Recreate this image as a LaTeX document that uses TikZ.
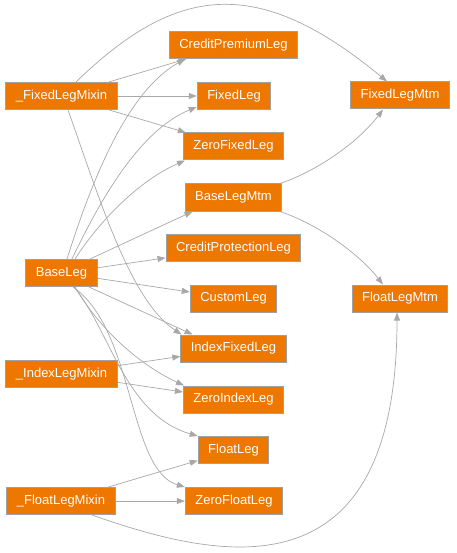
\documentclass[tikz,border=0pt]{standalone}
\usepackage{fontspec}
\setmainfont{Liberation Sans}
\usetikzlibrary{arrows.meta}
\definecolor{boxfill}{RGB}{238,119,0}
\definecolor{boxline}{RGB}{160,160,160}
\definecolor{edgecol}{RGB}{168,168,168}
\tikzset{
  cls/.style={rectangle, fill=boxfill, draw=boxline, line width=1pt, text=white,
    font=\fontsize{13}{15}\selectfont, minimum height=27pt, inner xsep=10pt, inner ysep=0pt},
  edge/.style={draw=edgecol, line width=0.7pt, -{Triangle[length=8pt,width=6pt]}}
}
\begin{document}
\begin{tikzpicture}[x=1pt,y=-1pt]
\useasboundingbox (0,0) rectangle (456,553);
\node[cls] (cpl)  at (233.5,45)   {CreditPremiumLeg};
\node[cls] (flm)  at (61.5,96)    {\_FixedLegMixin};
\node[cls] (fl)   at (234,96)     {FixedLeg};
\node[cls] (zfl)  at (233.5,146.5){ZeroFixedLeg};
\node[cls] (blm)  at (233.5,197.5){BaseLegMtm};
\node[cls] (cprl) at (233.5,248)  {CreditProtectionLeg};
\node[cls] (bl)   at (61.5,273)   {BaseLeg};
\node[cls] (cl)   at (233.5,298.5){CustomLeg};
\node[cls] (ifl)  at (233.5,348.5){IndexFixedLeg};
\node[cls] (ilm)  at (61.5,374)   {\_IndexLegMixin};
\node[cls] (zil)  at (233.5,399.5){ZeroIndexLeg};
\node[cls] (flt)  at (233.5,450)  {FloatLeg};
\node[cls] (fltm) at (61,501)     {\_FloatLegMixin};
\node[cls] (zflt) at (234,501)    {ZeroFloatLeg};
\node[cls] (fxm)  at (400,95.5)   {FixedLegMtm};
\node[cls] (ftm)  at (400,298.5)  {FloatLegMtm};

% _FixedLegMixin
\draw[edge] (flm) -- (cpl);
\draw[edge] (flm) -- (fl);
\draw[edge] (flm) -- (zfl);
\draw[edge] ([xshift=14.5pt]flm.north) .. controls (176,-15) and (257,-26) .. ([xshift=-13pt]fxm.north);
\draw[edge] ([xshift=6.5pt]flm.south) .. controls (100,200) and (130,300) .. ([xshift=-52pt]ifl.north);

% BaseLeg
\draw[edge] ([xshift=5.5pt]bl.north) .. controls (95,170) and (130,90) .. ([xshift=-48.5pt]cpl.south);
\draw[edge] ([xshift=10.5pt]bl.north) .. controls (100,200) and (140,130) .. ([yshift=3pt]fl.south west);
\draw[edge] ([xshift=13.5pt]bl.north) .. controls (100,220) and (140,180) .. ([xshift=-48.5pt]zfl.south);
\draw[edge] ([xshift=28.5pt]bl.north) -- ([xshift=-41pt]blm.south);
\draw[edge] (bl) -- (cprl);
\draw[edge] (bl) -- (cl);
\draw[edge] ([xshift=27.5pt]bl.south) -- ([xshift=-41pt]ifl.north);
\draw[edge] ([xshift=13.5pt]bl.south) .. controls (100,330) and (140,365) .. ([xshift=-49.5pt]zil.north);
\draw[edge] ([xshift=12.5pt]bl.south) .. controls (110,330) and (125,415) .. (flt.north west);
\draw[edge] ([xshift=11.5pt]bl.south) .. controls (135,330) and (128,470) .. (zflt.north west);

% BaseLegMtm
\draw[edge] ([xshift=46.5pt]blm.north) .. controls (320,170) and (360,140) .. ([xshift=-17pt]fxm.south);
\draw[edge] ([xshift=46.5pt]blm.south) .. controls (320,225) and (360,255) .. ([xshift=-17pt]ftm.north);

% _IndexLegMixin
\draw[edge] (ilm) -- (ifl);
\draw[edge] (ilm) -- (zil);

% _FloatLegMixin
\draw[edge] (fltm) -- (flt);
\draw[edge] (fltm) -- (zflt);
\draw[edge] ([xshift=31pt]fltm.south) .. controls (220,560) and (397,600) .. ([xshift=-3pt]ftm.south);
\end{tikzpicture}
\end{document}
